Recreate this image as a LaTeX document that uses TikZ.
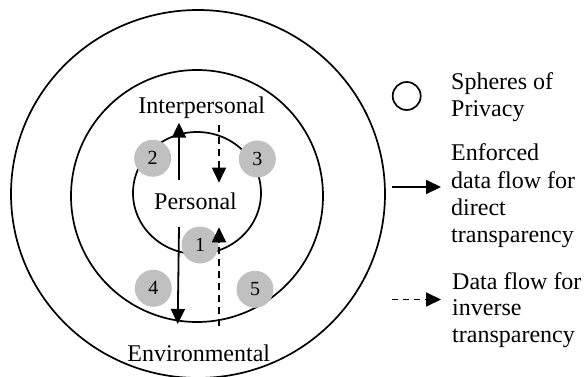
\documentclass[tikz,border=0pt]{standalone}
\usepackage{fontspec}
\setmainfont{Liberation Serif}
\usetikzlibrary{arrows.meta}
\definecolor{spheregray}{RGB}{192,192,192}
\tikzset{
  ring/.style={line width=1.7pt},
  numdisc/.style={circle, fill=spheregray, minimum size=37pt, inner sep=0pt, font=\fontsize{20}{24}\selectfont},
  lbl/.style={anchor=base, inner sep=0pt, font=\fontsize{24}{27}\selectfont},
  leg/.style={anchor=base west, inner sep=0pt, font=\fontsize{24}{27}\selectfont},
  flow/.style={line width=1.8pt, -{Triangle[length=15pt,width=14pt]}},
  invflow/.style={flow, dash pattern=on 7pt off 5pt},
  leginv/.style={flow, dash pattern=on 6pt off 5pt},
}
\begin{document}
\begin{tikzpicture}[x=1pt,y=-1pt]
\useasboundingbox (0,0) rectangle (584,377);
\begin{scope}
\clip (0,0) rectangle (584,377);
% spheres
\draw[ring] (198,194) ellipse [x radius=187, y radius=184];
\draw[ring] (197,196) circle [radius=126];
\draw[ring] (197,193) ellipse [x radius=64, y radius=61];
\end{scope}
% sphere labels
\node[lbl] (inter) at (201.8,113.3) {Interpersonal};
\node[lbl] (pers) at (195.5,210) {Personal};
\node[lbl] (env) at (198.8,361.7) {Environmental};
% numbered discs
\node[numdisc] (n2) at (152.7,158.3) {2};
\node[numdisc] (n3) at (257.3,159) {3};
\node[numdisc] (n1) at (200,245) {1};
\node[numdisc] (n4) at (153.3,288.3) {4};
\node[numdisc] (n5) at (255,289.3) {5};
% flows
\coordinate (a1s) at (179,180);
\coordinate (a1e) at (179,122.7);
\coordinate (a2s) at (219,125);
\coordinate (a2e) at (219,182.7);
\coordinate (a3s) at (179,227);
\coordinate (a3e) at (177.7,324);
\coordinate (a4s) at (219,326);
\coordinate (a4e) at (219,227.3);
\draw[flow] (a1s) -- (a1e);
\draw[invflow] (a2s) -- (a2e);
\draw[flow] (a3s) -- (a3e);
\draw[invflow] (a4s) -- (a4e);
% legend
\node[circle, draw, line width=1.7pt, minimum size=28pt, inner sep=0pt] (legc) at (406.7,96) {};
\node[leg] (t1a) at (451,89.3) {Spheres of};
\node[leg] (t1b) at (451,116.7) {Privacy};
\coordinate (ls1) at (392,187);
\coordinate (le1) at (441,187);
\draw[flow] (ls1) -- (le1);
\node[leg] (t2a) at (451,160.5) {Enforced};
\node[leg] (t2b) at (451,188.5) {data flow for};
\node[leg] (t2c) at (451,215.5) {direct};
\node[leg] (t2d) at (451,242) {transparency};
\coordinate (ls2) at (392,299.5);
\coordinate (le2) at (441,299.5);
\draw[leginv] (ls2) -- (le2);
\node[leg] (t3a) at (452,289.5) {Data flow for};
\node[leg] (t3b) at (452,315.5) {inverse};
\node[leg] (t3c) at (452,342) {transparency};
\end{tikzpicture}
\end{document}
